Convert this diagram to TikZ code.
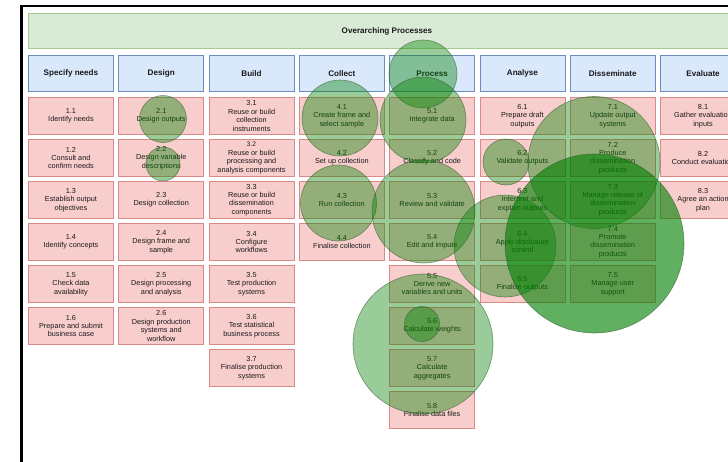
\documentclass[tikz,border=0pt]{standalone}
\usepackage{fontspec}
\setmainfont{Liberation Sans}
\definecolor{pinkf}{HTML}{F8CECC}
\definecolor{pinkd}{HTML}{D98A88}
\definecolor{bluef}{HTML}{DAE8FC}
\definecolor{blued}{HTML}{6C8EBF}
\definecolor{greenf}{HTML}{D9EBD6}
\definecolor{greend}{HTML}{A9C98F}
\definecolor{blobc}{HTML}{008000}
\definecolor{blobd}{HTML}{2F5A2F}
\tikzset{
  subbox/.style={draw=pinkd, fill=pinkf, line width=0.9pt, minimum width=85pt,
    minimum height=37pt, anchor=north west, inner sep=1pt, align=center,
    font=\fontsize{7.3}{8.4}\selectfont, text=black!90},
  phasebox/.style={draw=blued, fill=bluef, line width=0.9pt, minimum width=85pt,
    minimum height=36pt, anchor=north west, inner sep=1pt,
    font=\bfseries\fontsize{8.1}{9.5}\selectfont, text=black!90},
  overbox/.style={draw=greend, fill=greenf, line width=0.9pt, minimum width=717pt,
    minimum height=35pt, anchor=north west, inner sep=1pt,
    font=\bfseries\fontsize{8.1}{9.5}\selectfont, text=black!90},
  blob/.style={fill=blobc, fill opacity=0.4, draw=blobd, draw opacity=0.6, line width=0.6pt},
  darkblob/.style={blob, fill opacity=0.62}
}
\newcommand\sbx[4]{\node[subbox] (#3) at ({28+90.3*(#1-1)},{97+42*(#2-1)}) {#4};}
\newcommand\phx[3]{\node[phasebox] (#2) at ({28+90.3*(#1-1)},55) {#3};}
\begin{document}
\begin{tikzpicture}[x=1pt,y=-1pt]
\useasboundingbox (0,0) rectangle (728,461);
\clip (0,0) rectangle (728,461);
\fill[white] (0,0) rectangle (728,461);
\draw[line width=2.2pt, black] (21.5,6) rectangle (760,490);
\node[overbox] (over) at (28,13) {Overarching Processes};
\phx{1}{ph1}{Specify needs}
\phx{2}{ph2}{Design}
\phx{3}{ph3}{Build}
\phx{4}{ph4}{Collect}
\phx{5}{ph5}{Process}
\phx{6}{ph6}{Analyse}
\phx{7}{ph7}{Disseminate}
\phx{8}{ph8}{Evaluate}
% Specify needs
\sbx{1}{1}{s11}{1.1\\Identify needs}
\sbx{1}{2}{s12}{1.2\\Consult and\\confirm needs}
\sbx{1}{3}{s13}{1.3\\Establish output\\objectives}
\sbx{1}{4}{s14}{1.4\\Identify concepts}
\sbx{1}{5}{s15}{1.5\\Check data\\availability}
\sbx{1}{6}{s16}{1.6\\Prepare and submit\\business case}
% Design
\sbx{2}{1}{s21}{2.1\\Design outputs}
\sbx{2}{2}{s22}{2.2\\Design variable\\descriptions}
\sbx{2}{3}{s23}{2.3\\Design collection}
\sbx{2}{4}{s24}{2.4\\Design frame and\\sample}
\sbx{2}{5}{s25}{2.5\\Design processing\\and analysis}
\sbx{2}{6}{s26}{2.6\\Design production\\systems and\\workflow}
% Build
\sbx{3}{1}{s31}{3.1\\Reuse or build\\collection\\instruments}
\sbx{3}{2}{s32}{\fontsize{6.6}{7.6}\selectfont 3.2\\Reuse or build\\processing and\\analysis components}
\sbx{3}{3}{s33}{3.3\\Reuse or build\\dissemination\\components}
\sbx{3}{4}{s34}{3.4\\Configure\\workflows}
\sbx{3}{5}{s35}{3.5\\Test production\\systems}
\sbx{3}{6}{s36}{3.6\\Test statistical\\business process}
\sbx{3}{7}{s37}{3.7\\Finalise production\\systems}
% Collect
\sbx{4}{1}{s41}{4.1\\Create frame and\\select sample}
\sbx{4}{2}{s42}{4.2\\Set up collection}
\sbx{4}{3}{s43}{4.3\\Run collection}
\sbx{4}{4}{s44}{4.4\\Finalise collection}
% Process
\sbx{5}{1}{s51}{5.1\\Integrate data}
\sbx{5}{2}{s52}{5.2\\Classify and code}
\sbx{5}{3}{s53}{5.3\\Review and validate}
\sbx{5}{4}{s54}{5.4\\Edit and impute}
\sbx{5}{5}{s55}{5.5\\Derive new\\variables and units}
\sbx{5}{6}{s56}{5.6\\Calculate weights}
\sbx{5}{7}{s57}{5.7\\Calculate\\aggregates}
\sbx{5}{8}{s58}{5.8\\Finalise data files}
% Analyse
\sbx{6}{1}{s61}{6.1\\Prepare draft\\outputs}
\sbx{6}{2}{s62}{6.2\\Validate outputs}
\sbx{6}{3}{s63}{6.3\\Interpret and\\explain outputs}
\sbx{6}{4}{s64}{6.4\\Apply disclosure\\control}
\sbx{6}{5}{s65}{6.5\\Finalise outputs}
% Disseminate
\sbx{7}{1}{s71}{7.1\\Update output\\systems}
\sbx{7}{2}{s72}{7.2\\Produce\\dissemination\\products}
\sbx{7}{3}{s73}{7.3\\Manage release of\\dissemination\\products}
\sbx{7}{4}{s74}{7.4\\Promote\\dissemination\\products}
\sbx{7}{5}{s75}{7.5\\Manage user\\support}
% Evaluate
\sbx{8}{1}{s81}{8.1\\Gather evaluation\\inputs}
\sbx{8}{2}{s82}{8.2\\Conduct evaluation}
\sbx{8}{3}{s83}{8.3\\Agree an action\\plan}
% circles
\filldraw[blob] (163,119) circle (23.5);
\filldraw[blob] (163,164) circle (17);
\filldraw[blob] (340,118) circle (38);
\filldraw[blob] (338.5,203) circle (38);
\filldraw[blob] (423,74) circle (34);
\filldraw[blob] (423,120) circle (43);
\filldraw[blob] (423.5,211.5) circle (51.5);
\filldraw[blob] (423,344) circle (70);
\filldraw[blob] (422,324) circle (17.5);
\filldraw[blob] (506,162) circle (23);
\filldraw[blob] (505,246) circle (51);
\filldraw[blob] (594,162.5) circle (66);
\filldraw[darkblob] (594.5,243.5) circle (89.5);
\end{tikzpicture}
\end{document}
